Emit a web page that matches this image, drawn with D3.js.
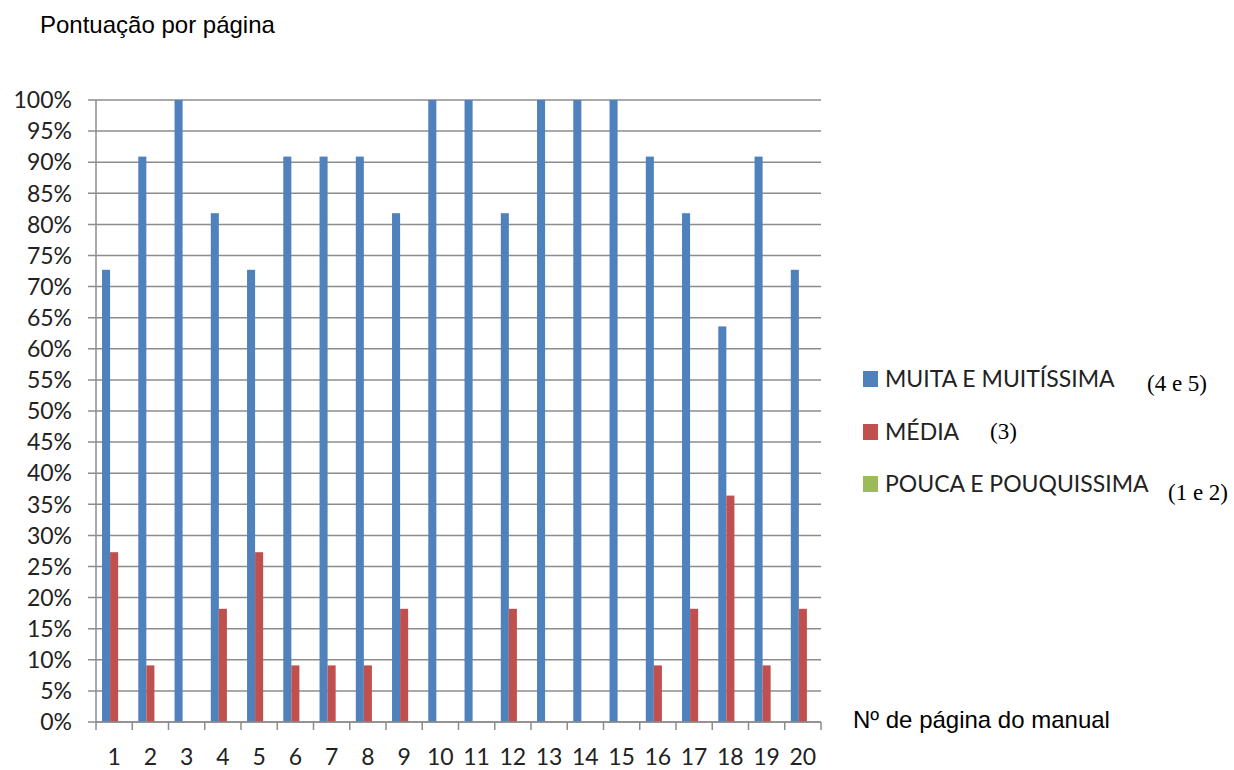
<!DOCTYPE html>
<html><head><meta charset="utf-8">
<script src="https://cdn.jsdelivr.net/npm/d3@7"></script>
<style>body{margin:0;background:#fff}svg{display:block}</style>
</head><body><svg id="c" width="1234" height="770"></svg>
<script>
const categories = ["1","2","3","4","5","6","7","8","9","10","11","12","13","14","15","16","17","18","19","20"];
const seriesNames = ["MUITA E MUITÍSSIMA","MÉDIA","POUCA E POUQUISSIMA"];
const seriesNotes = ["(4 e 5)","(3)","(1 e 2)"];
const muita = [72.7,90.9,100,81.8,72.7,90.9,90.9,90.9,81.8,100,100,81.8,100,100,100,90.9,81.8,63.6,90.9,72.7];
const media = [27.3,9.1,0,18.2,27.3,9.1,9.1,9.1,18.2,0,0,18.2,0,0,0,9.1,18.2,36.4,9.1,18.2];
const pouca = [0,0,0,0,0,0,0,0,0,0,0,0,0,0,0,0,0,0,0,0];
const yTicks = [0,5,10,15,20,25,30,35,40,45,50,55,60,65,70,75,80,85,90,95,100];
const colors = ["#4F81BD","#C0504D","#9BBB59"];
const series = [muita, media, pouca];

const svg = d3.select("#c");
const L=96, R=821, T=100, B=722;
const cal = "Lato, Open Sans, sans-serif";
const x = d3.scaleBand().domain(categories).range([L,R]).paddingInner(0).paddingOuter(0);
const y = d3.scaleLinear().domain([0,100]).range([B,T]);
const bw = x.bandwidth()/4.5;
const xs = d3.scaleBand().domain([0,1,2]).range([0,bw*3]);

svg.append("text").attr("x",40).attr("y",33).attr("font-family","Liberation Sans, Arial").attr("font-size",24).attr("fill","#000").text("Pontuação por página");

// gridlines
svg.append("g").selectAll("line").data(yTicks).join("line")
  .attr("x1",L-8).attr("x2",R).attr("y1",d=>y(d)).attr("y2",d=>y(d))
  .attr("stroke","#8c8c8c").attr("stroke-width",1.5);
// y labels
svg.append("g").selectAll("text").data(yTicks).join("text")
  .attr("x",L-24).attr("y",d=>y(d)).attr("dy","0.36em").attr("text-anchor","end")
  .attr("font-family",cal).attr("font-size",23).attr("fill","#222")
  .text(d=>d+"%");

// bars
series.forEach((s,si)=>{
  svg.append("g").selectAll("rect").data(s).join("rect")
    .attr("x",(d,i)=>x(categories[i])+ (x.bandwidth()-bw*3)/2 + xs(si))
    .attr("width",bw).attr("y",d=>y(d)).attr("height",d=>B-y(d))
    .attr("fill",colors[si]);
});

// axes lines
svg.append("line").attr("x1",L).attr("x2",L).attr("y1",T).attr("y2",B).attr("stroke","#8c8c8c").attr("stroke-width",1.5);
svg.append("line").attr("x1",L).attr("x2",R).attr("y1",B).attr("y2",B).attr("stroke","#8c8c8c").attr("stroke-width",1.5);
const bounds = categories.map(c=>x(c)).concat([R]);
svg.append("g").selectAll("line").data(bounds).join("line")
  .attr("x1",d=>d).attr("x2",d=>d).attr("y1",B).attr("y2",B+8).attr("stroke","#8c8c8c").attr("stroke-width",1.5);
svg.append("g").selectAll("text").data(categories).join("text")
  .attr("x",d=>x(d)+x.bandwidth()/2).attr("y",757).attr("dy","0.36em").attr("text-anchor","middle")
  .attr("font-family",cal).attr("font-size",23).attr("fill","#222").text(d=>d);

svg.append("text").attr("x",853).attr("y",728).attr("font-family","Liberation Sans, Arial").attr("font-size",24).attr("fill","#000").text("Nº de página do manual");

// legend
const legY=[379,432,484];
const noteX=[1147,990,1168];
const noteY=[383,431,492];
seriesNames.forEach((n,i)=>{
  svg.append("rect").attr("x",863).attr("y",legY[i]-8).attr("width",15).attr("height",16).attr("fill",colors[i]);
  svg.append("text").attr("x",885).attr("y",legY[i]).attr("dy","0.36em").attr("font-family",cal).attr("font-size",23).attr("fill","#222").text(n);
  svg.append("text").attr("x",noteX[i]).attr("y",noteY[i]).attr("dy","0.34em").attr("font-family","Liberation Serif, Times New Roman, serif").attr("font-size",23).attr("fill","#000").text(seriesNotes[i]);
});
</script></body></html>
